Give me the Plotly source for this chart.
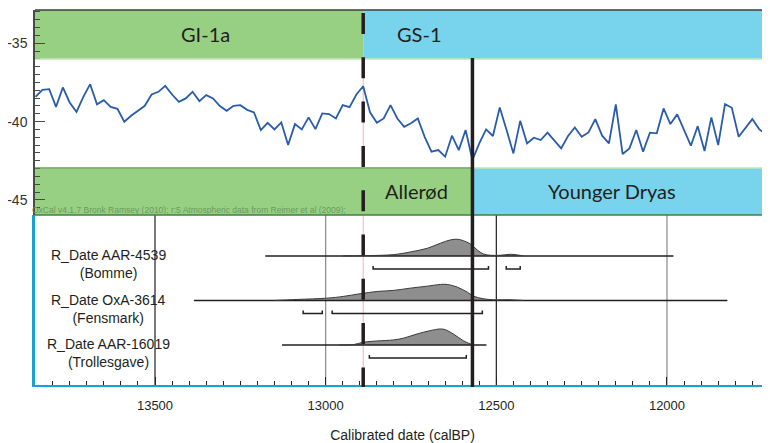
import plotly.graph_objects as go

# ---------------- data ----------------
years = [13850, 13830, 13810, 13790, 13770, 13750, 13730, 13710, 13690, 13670,
         13650, 13630, 13610, 13590, 13570, 13550, 13530, 13510, 13490, 13470,
         13450, 13430, 13410, 13390, 13370, 13350, 13330, 13310, 13290, 13270,
         13250, 13230, 13210, 13190, 13170, 13150, 13130, 13110, 13090, 13070,
         13050, 13030, 13010, 12990, 12970, 12950, 12930, 12910, 12890, 12870,
         12850, 12830, 12810, 12790, 12770, 12750, 12730, 12710, 12690, 12670,
         12650, 12630, 12610, 12590, 12570, 12550, 12530, 12510, 12490, 12470,
         12450, 12430, 12410, 12390, 12370, 12350, 12330, 12310, 12290, 12270,
         12250, 12230, 12210, 12190, 12170, 12150, 12130, 12110, 12090, 12070,
         12050, 12030, 12010, 11990, 11970, 11950, 11930, 11910, 11890, 11870,
         11850, 11830, 11810, 11790, 11770, 11750, 11730, 11710, 11690]
d18o = [-38.42, -37.97, -37.93, -39.06, -37.82, -38.78, -39.38, -38.42, -37.61, -38.90,
        -38.63, -39.06, -39.18, -40.01, -39.63, -39.33, -38.99, -38.27, -38.10, -37.72,
        -38.27, -38.74, -38.52, -38.10, -38.69, -38.31, -38.52, -39.01, -39.31, -38.99,
        -38.95, -39.25, -39.41, -40.54, -40.08, -40.50, -40.05, -41.50, -40.16, -40.50,
        -39.73, -40.48, -39.48, -39.52, -39.80, -38.95, -39.08, -38.27, -37.74, -39.41,
        -40.08, -39.80, -38.95, -39.80, -40.33, -40.11, -39.80, -40.97, -41.92, -41.82,
        -42.24, -40.90, -41.82, -40.54, -42.45, -41.39, -40.50, -40.92, -39.10, -40.54,
        -42.03, -39.95, -41.39, -41.03, -41.18, -40.71, -41.18, -41.71, -40.92, -40.37,
        -40.97, -40.69, -39.84, -40.90, -41.39, -38.90, -42.07, -41.71, -40.54, -41.92,
        -40.71, -40.75, -39.16, -40.16, -39.54, -40.50, -41.54, -40.29, -41.88, -39.73,
        -41.50, -38.89, -39.12, -40.97, -40.43, -39.84, -40.48, -40.82, -39.60]

y_tick_vals = [-35, -40, -45]
y_tick_text = ["-35", "-40", "-45"]

greenland_stages = ["GI-1a", "GS-1"]
greenland_label_x = [13353, 12724]
pollen_zones = ["Allerød", "Younger Dryas"]
pollen_label_x = [12735, 12162]
greenland_boundary = 12890   # GI-1a / GS-1
pollen_boundary = 12570      # Allerød / Younger Dryas

grid_years = [13500, 13000, 12500, 12000]

date_labels = ["R_Date AAR-4539<br>(Bomme)",
               "R_Date OxA-3614<br>(Fensmark)",
               "R_Date AAR-16019<br>(Trollesgave)"]
date_rows = [3, 2, 1]
date_spans = [(13177, 11981), (13386, 11823), (13128, 12529)]
dist_years = [
    [12950, 12890, 12802, 12752, 12702, 12664, 12635, 12614, 12597, 12576, 12556,
     12538, 12518, 12488, 12459, 12438, 12421],
    [13150, 13084, 12996, 12949, 12899, 12849, 12802, 12752, 12702, 12664, 12644,
     12614, 12585, 12567, 12538, 12509, 12459, 12421],
    [12960, 12919, 12890, 12849, 12802, 12773, 12732, 12694, 12664, 12650, 12626,
     12597, 12576, 12567],
]
dist_prob = [
    [0, 0.3, 1.3, 4, 7.7, 12.7, 16, 16.7, 15.3, 12, 6, 2, 0.7, 0.7, 1.7, 1, 0],
    [0, 1, 2.3, 4, 6.7, 9, 10, 12.3, 14.3, 16, 16, 13.3, 8.3, 4.3, 1.7, 0.7, 0.7, 0],
    [0, 0.3, 2.7, 4, 5, 6.7, 11, 14.3, 16, 15.3, 11, 4.3, 1, 0],
]
ranges_95 = [
    [(12861, 12523), (12471, 12430)],
    [(13066, 13010), (12981, 12541)],
    [(12872, 12588)],
]

# ---------------- layout constants ----------------
# page body has an 8px margin, so the figure is 8px smaller and margins shifted
OFF = 8
X_LEFT, X_RIGHT = 13851.6, 11698.2
Y_TOP, Y_BOT = -32.874, -45.965
UPPER_BAND_LOW = -36.0
LOWER_BAND_HIGH = -42.96
SPLIT = 0.4533
GREEN = "#98d083"
BLUE = "#78d3ec"
DARK = "#231f20"
AXBLUE = "#1ba0d5"
PX_PER_ROW = 44.5
ARIAL = "Arial, Liberation Sans, sans-serif"
LABF = "Lato, Noto Sans, sans-serif"

fig = go.Figure()

# isotope curve (top panel)
fig.add_trace(go.Scatter(x=years, y=d18o, mode="lines", xaxis="x", yaxis="y",
                         line=dict(color="#2a5cab", width=1.8), hoverinfo="skip",
                         showlegend=False))

# probability distributions (bottom panel)
for i, row in enumerate(date_rows):
    x0, x1 = date_spans[i]
    fig.add_trace(go.Scatter(x=[x0, x1], y=[row, row], mode="lines", xaxis="x", yaxis="y2",
                             line=dict(color=DARK, width=1.5), showlegend=False,
                             hoverinfo="skip"))
    fig.add_trace(go.Scatter(x=dist_years[i], y=[row + p / PX_PER_ROW for p in dist_prob[i]],
                             mode="lines", xaxis="x", yaxis="y2", fill="tonexty",
                             fillcolor="#8e8e8e", line=dict(color="#3a3a3a", width=1, shape="spline"),
                             showlegend=False, hoverinfo="skip"))
    bx, by = [], []
    yb = row - 13 / PX_PER_ROW
    h = 3 / PX_PER_ROW
    for a, b in ranges_95[i]:
        bx += [a, a, b, b, None]
        by += [yb + h, yb, yb, yb + h, None]
    fig.add_trace(go.Scatter(x=bx, y=by, mode="lines", xaxis="x", yaxis="y2",
                             line=dict(color=DARK, width=1.5), showlegend=False,
                             hoverinfo="skip"))

shapes = []
# bands
shapes.append(dict(type="rect", xref="x", yref="y", x0=X_LEFT, x1=greenland_boundary,
                   y0=UPPER_BAND_LOW, y1=Y_TOP, fillcolor=GREEN, line_width=0, layer="below"))
shapes.append(dict(type="rect", xref="x", yref="y", x0=greenland_boundary, x1=X_RIGHT,
                   y0=UPPER_BAND_LOW, y1=Y_TOP, fillcolor=BLUE, line_width=0, layer="below"))
shapes.append(dict(type="rect", xref="x", yref="y", x0=X_LEFT, x1=pollen_boundary,
                   y0=Y_BOT, y1=LOWER_BAND_HIGH, fillcolor=GREEN, line_width=0, layer="below"))
shapes.append(dict(type="rect", xref="x", yref="y", x0=pollen_boundary, x1=X_RIGHT,
                   y0=Y_BOT, y1=LOWER_BAND_HIGH, fillcolor=BLUE, line_width=0, layer="below"))
# band edges
shapes.append(dict(type="line", xref="paper", yref="paper", x0=0, x1=1, y0=1, y1=1,
                   line=dict(color="#3c3c3c", width=1.5)))
shapes.append(dict(type="line", xref="paper", yref="y", x0=0, x1=1, y0=UPPER_BAND_LOW,
                   y1=UPPER_BAND_LOW, line=dict(color="#c4e6b4", width=1.5)))
shapes.append(dict(type="line", xref="x", yref="y", x0=X_LEFT, x1=pollen_boundary,
                   y0=LOWER_BAND_HIGH, y1=LOWER_BAND_HIGH, line=dict(color="#6a9a5c", width=1.2)))
shapes.append(dict(type="line", xref="x", yref="y", x0=pollen_boundary, x1=X_RIGHT,
                   y0=LOWER_BAND_HIGH, y1=LOWER_BAND_HIGH, line=dict(color="#c4e6b4", width=1.5)))
shapes.append(dict(type="line", xref="paper", yref="paper", x0=0, x1=1, y0=SPLIT, y1=SPLIT,
                   line=dict(color="#3f7f45", width=1.5)))
# grid lines in lower panel
for gy in grid_years:
    col = DARK if gy % 1000 else "#8a8a8a"
    shapes.append(dict(type="line", xref="x", yref="y2 domain", x0=gy, x1=gy, y0=0, y1=1,
                       line=dict(color=col, width=1.2), layer="below"))
# faint red line at GI-1a/GS-1
shapes.append(dict(type="line", xref="x", yref="paper", x0=greenland_boundary,
                   x1=greenland_boundary, y0=0, y1=(385 - 59) / 375,
                   line=dict(color="#f2b3b3", width=1), layer="below"))
# boundary lines
shapes.append(dict(type="line", xref="x", yref="paper", x0=greenland_boundary,
                   x1=greenland_boundary, y0=(385 - 13) / 375, y1=-0.005,
                   line=dict(color=DARK, width=3.5, dash="21px,23.3px")))
shapes.append(dict(type="line", xref="x", yref="paper", x0=pollen_boundary,
                   x1=pollen_boundary, y0=(385 - 58) / 375, y1=-0.005,
                   line=dict(color=DARK, width=3.5)))

annotations = []
for name, xv in zip(greenland_stages, greenland_label_x):
    annotations.append(dict(x=xv, y=-34.4, xref="x", yref="y", text=name, showarrow=False,
                            font=dict(family=LABF, size=20, color=DARK)))
for name, xv in zip(pollen_zones, pollen_label_x):
    annotations.append(dict(x=xv, y=-44.4, xref="x", yref="y", text=name, showarrow=False,
                            font=dict(family=LABF, size=20, color=DARK)))
annotations.append(dict(x=-0.007, y=-45.63, xref="paper", yref="y", xanchor="left",
                        text="OxCal v4.1.7 Bronk Ramsey (2010); r:5 Atmospheric data from Reimer et al (2009);",
                        showarrow=False, font=dict(family=ARIAL, size=8.5, color="#6a9a5e")))
for name, row in zip(date_labels, date_rows):
    annotations.append(dict(x=0.0995, y=row - 8.5 / PX_PER_ROW, xref="paper", yref="y2",
                            text=name, showarrow=False, align="center", xanchor="center",
                            yanchor="middle",
                            font=dict(family=ARIAL, size=14, color=DARK)))

fig.update_layout(
    width=770 - OFF, height=443 - OFF,
    margin=dict(l=35 - OFF, r=0, t=10 - OFF, b=58, autoexpand=False),
    paper_bgcolor="white", plot_bgcolor="white",
    showlegend=False,
    shapes=shapes, annotations=annotations,
    xaxis=dict(anchor="y2", range=[X_LEFT, X_RIGHT], showline=True, linecolor=AXBLUE,
               linewidth=2, ticks="inside", tick0=12000, dtick=500, ticklen=8,
               tickformat="d", automargin=False,
               tickcolor=DARK, tickwidth=1, showgrid=False, zeroline=False,
               minor=dict(dtick=50, ticks="inside", ticklen=4, tickcolor=DARK, tickwidth=1),
               tickfont=dict(family=ARIAL, size=13, color=DARK), ticklabelstandoff=7,
               title=dict(text="Calibrated date (calBP)",
                          font=dict(family=ARIAL, size=14, color=DARK), standoff=22)),
    yaxis=dict(domain=[SPLIT, 1], range=[Y_BOT, Y_TOP], showline=True, linecolor="#4a4a4a",
               linewidth=1.5, ticks="inside", tickvals=y_tick_vals, ticktext=y_tick_text,
               ticklen=10, tickcolor="#4a4a4a", tickwidth=1.2, showgrid=False, zeroline=False,
               automargin=False, ticklabelstandoff=3,
               minor=dict(dtick=0.5, tick0=-35, ticks="inside", ticklen=5, tickcolor="#4a4a4a",
                          tickwidth=1),
               tickfont=dict(family=ARIAL, size=14, color="#333333")),
    yaxis2=dict(domain=[0, SPLIT], range=[0.1, 3.92], showline=True, linecolor=AXBLUE,
                linewidth=2.5, ticks="", showticklabels=False, showgrid=False, zeroline=False,
                automargin=False),
)

fig.write_html("out.html")
